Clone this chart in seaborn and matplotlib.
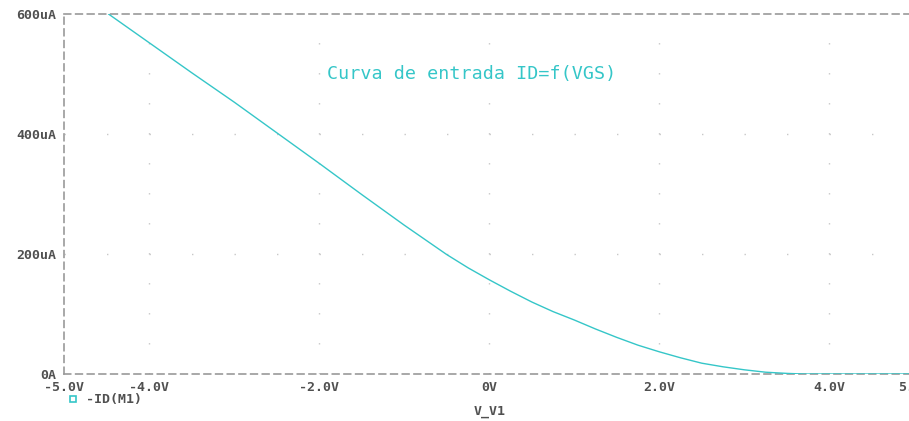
import matplotlib
matplotlib.use("Agg")
import matplotlib.pyplot as plt
from matplotlib.lines import Line2D
import seaborn as sns
import pandas as pd

# Data (V_V1 in volts, -ID(M1) in uA)
v_v1 = [-4.48, -4.0, -3.5, -3.0, -2.5, -2.0, -1.5, -1.0, -0.5, -0.25, 0.0,
        0.25, 0.5, 0.75, 1.0, 1.25, 1.5, 1.75, 2.0, 2.25, 2.5, 2.75, 3.0,
        3.25, 3.5, 3.7, 4.0, 4.5, 5.0]
id_ua = [600, 552, 502, 453, 402, 351, 299, 248, 199, 177, 157,
         138, 120, 104, 90, 75, 61, 48, 37, 27, 18, 12, 7,
         3, 1, 0, 0, 0, 0]
x_ticks = [-5, -4, -2, 0, 2, 4, 5]
x_labels = ["-5.0V", "-4.0V", "-2.0V", "0V", "2.0V", "4.0V", "5.0V"]
y_ticks = [0, 200, 400, 600]
y_labels = ["0A", "200uA", "400uA", "600uA"]
title = "Curva de entrada ID=f(VGS)"
series_name = "-ID(M1)"
x_name = "V_V1"

df = pd.DataFrame({"V_V1": v_v1, "ID": id_ua})

sns.set_style("white")
plt.rcParams["font.family"] = ["DejaVu Sans Mono", "DejaVu Sans"]

CYAN = "#35c6c8"
GRAY = "#9a9a9a"
TXT = "#505050"

fig = plt.figure(figsize=(9.09, 4.21), dpi=100)
ax = fig.add_axes([64.3 / 909, 47 / 421, 850 / 909, 360 / 421])

sns.lineplot(data=df, x="V_V1", y="ID", ax=ax, color=CYAN, linewidth=1.0,
             legend=False, zorder=3)

ax.set_xlim(-5, 5)
ax.set_ylim(0, 600)

# faint dotted grid like PSpice
for xv in [-4, -2, 0, 2, 4]:
    ax.axvline(xv, color="#c8c8c8", linewidth=1.0,
               linestyle=(0, (1, 20.6)), zorder=1)
for yv in [200, 400]:
    ax.axhline(yv, color="#c8c8c8", linewidth=1.0,
               linestyle=(0, (1, 29.6)), zorder=1)

for side in ["top", "bottom", "left"]:
    ax.spines[side].set_visible(True)
    ax.spines[side].set_color(GRAY)
    ax.spines[side].set_linewidth(1.2)
    ax.spines[side].set_linestyle((0, (4, 3)))
ax.spines["right"].set_visible(False)

ax.set_xticks(x_ticks)
ax.set_xticklabels(x_labels)
ax.set_yticks(y_ticks)
ax.set_yticklabels(y_labels)
ax.tick_params(axis="x", direction="in", length=4, color=GRAY, labelsize=9.5,
               labelcolor=TXT, pad=5)
ax.tick_params(axis="y", direction="out", length=4, color=GRAY, labelsize=9.5,
               labelcolor=TXT, pad=2)
for lab in ax.get_xticklabels() + ax.get_yticklabels():
    lab.set_fontweight("bold")

ax.set_xlabel(x_name, fontsize=9.5, color=TXT, fontweight="bold", labelpad=8)
ax.set_ylabel("")

ax.text(-1.91, 500, title, color=CYAN, fontsize=13.2,
        ha="left", va="center", zorder=4)

handle = Line2D([], [], marker="s", linestyle="none", markerfacecolor="none",
                markeredgecolor=CYAN, markersize=4, markeredgewidth=1.2)
fig.legend([handle], [series_name], loc="center left",
           bbox_to_anchor=(68 / 909, (421 - 400) / 421), frameon=False,
           handlelength=0.8, handletextpad=0.6, labelcolor=TXT,
           borderpad=0.0, borderaxespad=0.0,
           prop={"weight": "bold", "size": 9.5})

fig.savefig("out.png", dpi=100)
